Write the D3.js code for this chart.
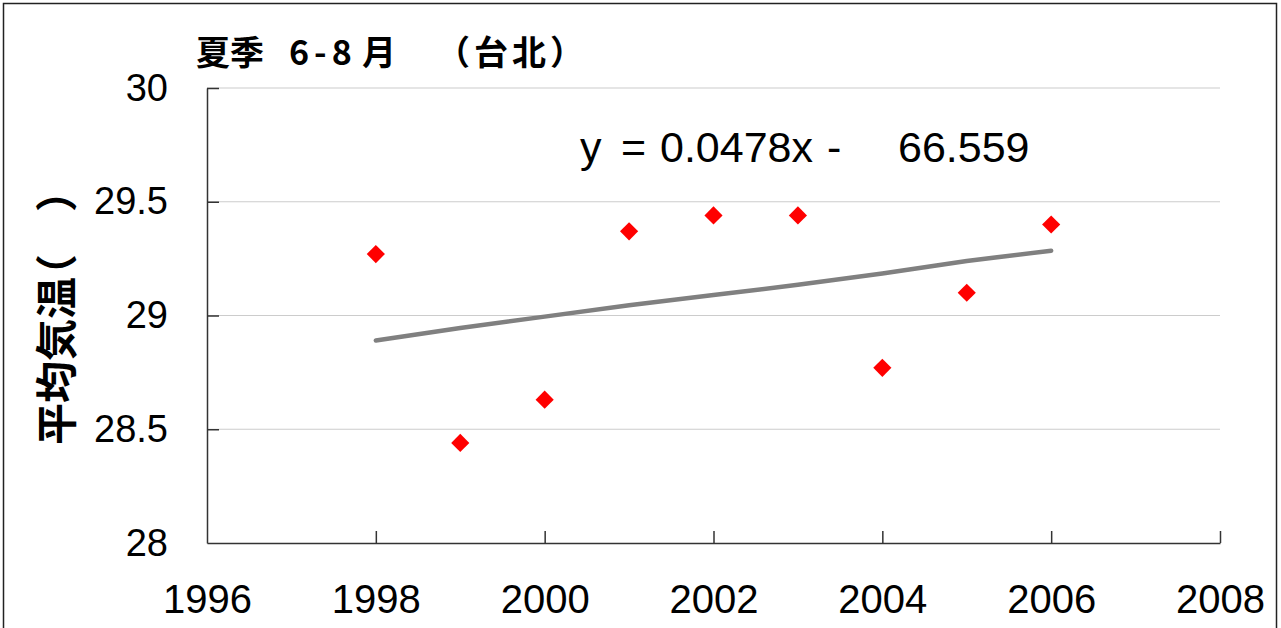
<!DOCTYPE html>
<html>
<head>
<meta charset="utf-8">
<script src="https://cdn.jsdelivr.net/npm/d3@7"></script>
<style>
  body { margin: 0; background: white; }
  svg { display: block; }
</style>
</head>
<body>
<div id="wykres"></div>
<script>
// data
var lata = [1998, 1999, 2000, 2001, 2002, 2003, 2004, 2005, 2006];
var temp = [29.27, 28.44, 28.63, 29.37, 29.44, 29.44, 28.77, 29.10, 29.40];
var trend = [28.89, 28.945, 28.995, 29.045, 29.09, 29.135, 29.185, 29.24, 29.285];
var xTicks = [1996, 1998, 2000, 2002, 2004, 2006, 2008];
var yTicks = [28, 28.5, 29, 29.5, 30];
var tytulCzesci = ["夏季", "6-8", "月", "（台北）"];
var osYCzesci = ["平均気温", "（", "）"];
var rownanieCzesci = ["y", "=", "0.0478x", "-", "66.559"];

var W = 1281, H = 628;
var margin = { top: 88, right: 61, bottom: 85, left: 207 };
var width = W - margin.left - margin.right;
var height = H - margin.top - margin.bottom;

var svgRoot = d3.select("#wykres")
  .append("svg")
  .attr("width", W)
  .attr("height", H)
  .style("background", "white");

// outer frame
svgRoot.append("rect")
  .attr("x", 3.5).attr("y", 3.5)
  .attr("width", 1273).attr("height", 700)
  .attr("fill", "none")
  .attr("stroke", "#222")
  .attr("stroke-width", 1.5);

var svg = svgRoot.append("g")
  .attr("transform", "translate(" + margin.left + "," + margin.top + ")");

var xscale = d3.scaleLinear().domain([1996, 2008]).range([0, width]);
var yscale = d3.scaleLinear().domain([28, 30]).range([height, 0]);

// gridlines
svg.append("g")
  .selectAll("line")
  .data(yTicks.filter(d => d > 28))
  .enter().append("line")
  .attr("x1", 0)
  .attr("x2", width)
  .attr("y1", d => yscale(d))
  .attr("y2", d => yscale(d))
  .attr("stroke", "#cccccc")
  .attr("stroke-width", 1.2);

// axes
var xAxis = svg.append("g")
  .attr("transform", "translate(0," + height + ")")
  .call(d3.axisBottom(xscale).tickValues(xTicks).tickFormat(d3.format("d"))
    .tickSizeInner(-12).tickSizeOuter(0).tickPadding(42));
xAxis.selectAll("text")
  .style("font-family", "'Liberation Sans', Arial, sans-serif")
  .style("font-size", "40px")
  .attr("fill", "#000");
xAxis.selectAll(".tick").filter(d => d === 1996).select("line").remove();

var yAxis = svg.append("g")
  .call(d3.axisLeft(yscale).tickValues(yTicks).tickFormat(d3.format("~g"))
    .tickSizeInner(-12).tickSizeOuter(0).tickPadding(39));
yAxis.selectAll("text")
  .style("font-family", "'Liberation Sans', Arial, sans-serif")
  .style("font-size", "38px")
  .attr("fill", "#000");
yAxis.selectAll(".tick").filter(d => d === 28).select("line").remove();

svg.selectAll(".domain, .tick line")
  .attr("stroke", "#333")
  .attr("stroke-width", 1.5);

// trend line
svg.append("path")
  .datum(d3.zip(lata, trend))
  .attr("fill", "none")
  .attr("stroke", "#808080")
  .attr("stroke-width", 4.5)
  .attr("stroke-linecap", "round")
  .attr("stroke-linejoin", "round")
  .attr("d", d3.line()
    .x(d => xscale(d[0]))
    .y(d => yscale(d[1])));

// points
svg.append("g")
  .selectAll("path")
  .data(d3.zip(lata, temp))
  .enter().append("path")
  .attr("d", d3.symbol(d3.symbolSquare, 165))
  .attr("transform", d => "translate(" + xscale(d[0]) + "," + yscale(d[1]) + ") rotate(45)")
  .attr("fill", "#ff0000");

// equation
var eqX = [580, 621, 660, 827, 898];
var eq = svgRoot.append("text")
  .attr("y", 162)
  .attr("font-family", "'Liberation Sans', Arial, sans-serif")
  .attr("font-size", 43);
rownanieCzesci.forEach(function (t, i) {
  eq.append("tspan").attr("x", eqX[i]).text(t);
});

// title
var tytX = [196, 289, 362, 436];
var tytLS = [0, 5, 0, 4];
var tytul = svgRoot.append("text")
  .attr("y", 65)
  .attr("font-family", "'Noto Sans CJK JP', sans-serif")
  .attr("font-weight", "bold")
  .attr("font-size", 34);
tytulCzesci.forEach(function (t, i) {
  tytul.append("tspan")
    .attr("x", tytX[i])
    .attr("letter-spacing", tytLS[i])
    .text(t);
});

// y label
var etY = svgRoot.append("text")
  .attr("transform", "translate(72,445) rotate(-90)")
  .attr("font-family", "'Noto Sans CJK JP', sans-serif")
  .attr("font-weight", "bold")
  .attr("font-size", 42);
etY.append("tspan").text(osYCzesci[0]);
etY.append("tspan").attr("dx", -19).text(osYCzesci[1]);
etY.append("tspan").attr("dx", 42).text(osYCzesci[2]);
</script>
</body>
</html>
